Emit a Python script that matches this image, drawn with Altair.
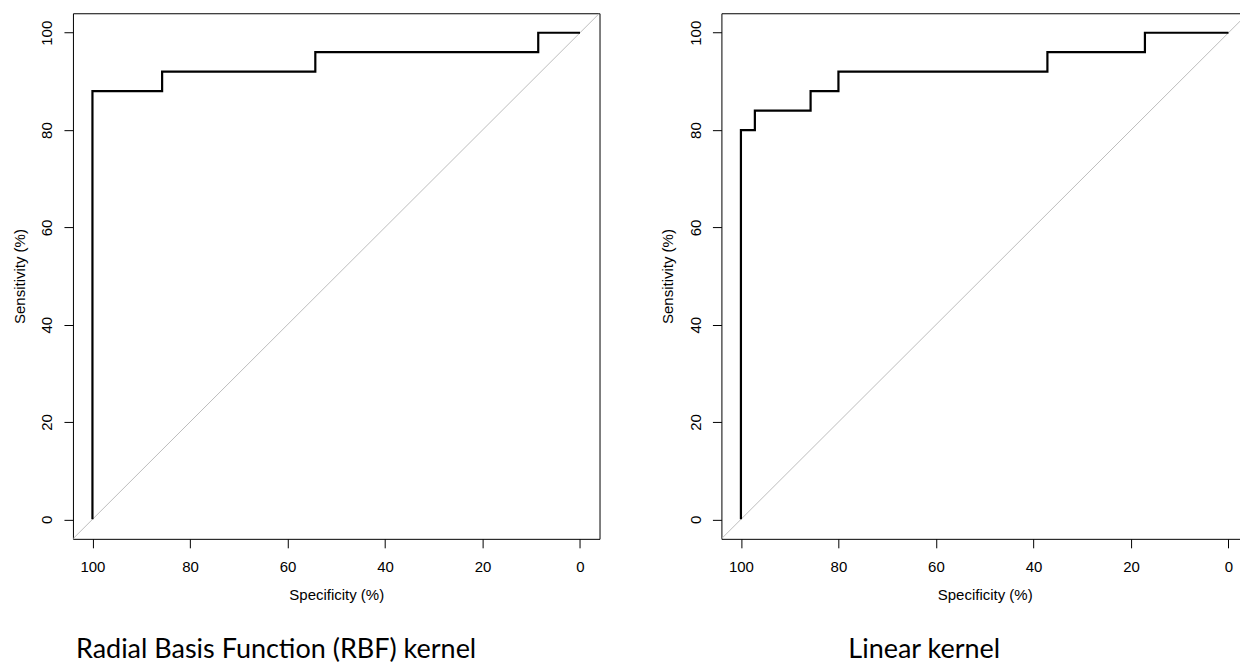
import altair as alt
import pandas as pd

# ROC points (specificity %, sensitivity %)
rbf_spec = [100, 100, 85.71, 85.71, 54.29, 54.29, 8.57, 8.57, 0]
rbf_sens = [0, 88, 88, 92, 92, 96, 96, 100, 100]
lin_spec = [100, 100, 97.14, 97.14, 85.71, 85.71, 80, 80, 37.14, 37.14, 17.14, 17.14, 0]
lin_sens = [0, 80, 80, 84, 84, 88, 88, 92, 92, 96, 96, 100, 100]
diag_spec = [104, -4]
diag_sens = [-4, 104]
tick_values = [0, 20, 40, 60, 80, 100]
captions = ["Radial Basis Function (RBF) kernel", "Linear kernel"]
x_title = "Specificity (%)"
y_title = "Sensitivity (%)"

FONT = "Liberation Sans"
CAP_FONT = "Lato"
W, H = 527, 526


def panel(spec, sens, caption, cap_dx):
    roc = pd.DataFrame({"spec": spec, "sens": sens, "i": list(range(len(spec)))})
    dg = pd.DataFrame({"spec": diag_spec, "sens": diag_sens, "i": [0, 1]})
    xs = alt.Scale(domain=[-4, 104], reverse=True, nice=False, zero=False)
    ys = alt.Scale(domain=[-4, 104], nice=False, zero=False)
    xax = alt.Axis(
        values=tick_values, title=x_title, domain=False, grid=False,
        tickSize=9, tickColor="black", tickWidth=1,
        labelFont=FONT, labelFontSize=15, labelColor="black", labelPadding=12,
        labelFlush=False, labelOverlap=False, labelBound=False,
        titleFont=FONT, titleFontSize=15, titleFontWeight="normal", titleColor="black",
        titleX=W / 2, titleY=61, titleBaseline="alphabetic", titleAlign="center",
    )
    yax = alt.Axis(
        values=tick_values, title=y_title, domain=False, grid=False,
        tickSize=9, tickColor="black", tickWidth=1,
        labelFont=FONT, labelFontSize=15, labelColor="black", labelPadding=12,
        labelAngle=270, labelAlign="center", labelBaseline="alphabetic",
        labelFlush=False, labelOverlap=False, labelBound=False,
        titleFont=FONT, titleFontSize=15, titleFontWeight="normal", titleColor="black",
        titleAngle=270, titleX=-48.7, titleY=H / 2, titleBaseline="alphabetic", titleAlign="center",
    )
    diag = alt.Chart(dg).mark_line(color="#bdbdbd", strokeWidth=1, clip=True).encode(
        x=alt.X("spec:Q", scale=xs, axis=xax),
        y=alt.Y("sens:Q", scale=ys, axis=yax),
        order="i:Q",
    )
    curve = alt.Chart(roc).mark_line(color="black", strokeWidth=2.2).encode(
        x=alt.X("spec:Q", scale=xs),
        y=alt.Y("sens:Q", scale=ys),
        order="i:Q",
    )
    return alt.layer(diag, curve).properties(
        width=W, height=H,
        title=alt.TitleParams(
            text=caption, orient="bottom", anchor="start", frame="group",
            font=CAP_FONT, fontSize=27, fontWeight="normal", color="black",
            baseline="top", offset=34, dx=cap_dx,
        ),
    )


left = panel(rbf_spec, rbf_sens, captions[0], 3)
right = panel(lin_spec, lin_sens, captions[1], 127)

chart = alt.hconcat(left, right, spacing=122, bounds="flush").properties(
    padding={"left": 3, "top": 4, "right": -9, "bottom": 0},
    background="white",
).configure_view(stroke="black", strokeWidth=1)

chart.save("out.html", embed_options={"renderer": "svg", "actions": False})
